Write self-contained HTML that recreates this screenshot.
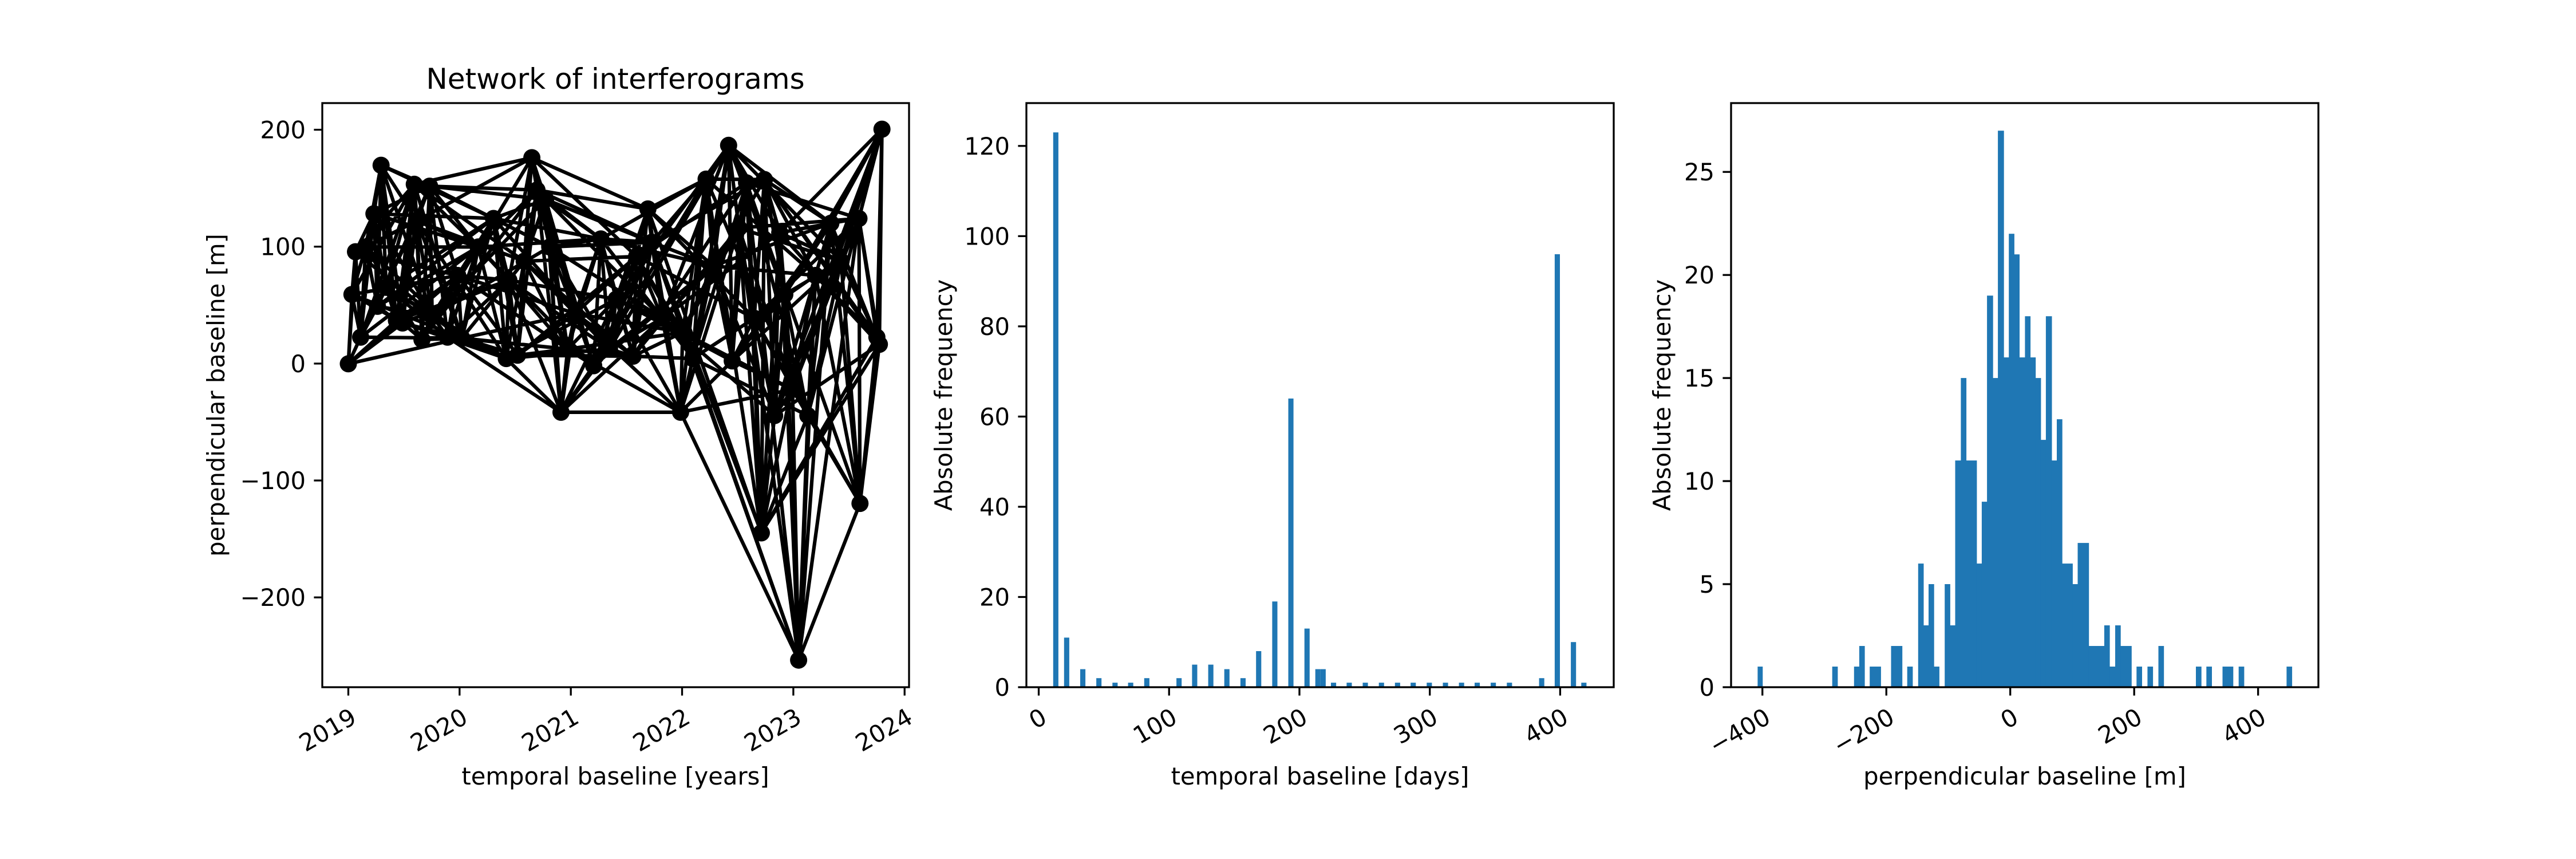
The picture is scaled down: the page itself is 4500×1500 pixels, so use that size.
<!DOCTYPE html>
<html><head><meta charset="utf-8"><style>
html,body{margin:0;padding:0;background:#fff}
svg{display:block}
text{font-family:"DejaVu Sans","Liberation Sans",sans-serif;fill:#000}
</style></head><body>
<svg id="s" xmlns="http://www.w3.org/2000/svg" width="4500" height="1500" viewBox="0 0 4500 1500">
<rect width="4500" height="1500" fill="#fff"/>
<g id="g"></g>
<text x="1075" y="155" font-size="50" text-anchor="middle">Network of interferograms</text>
<text x="1075" y="1370" font-size="41.7" text-anchor="middle">temporal baseline [years]</text>
<text x="2306" y="1370" font-size="41.7" text-anchor="middle">temporal baseline [days]</text>
<text x="3537" y="1370" font-size="41.7" text-anchor="middle">perpendicular baseline [m]</text>
<text transform="translate(392,690) rotate(-90)" font-size="41.7" text-anchor="middle">perpendicular baseline [m]</text>
<text transform="translate(1663,690) rotate(-90)" font-size="41.7" text-anchor="middle">Absolute frequency</text>
<text transform="translate(2918,690) rotate(-90)" font-size="41.7" text-anchor="middle">Absolute frequency</text>
</svg>
<script>
(function(){
var NS="http://www.w3.org/2000/svg",g=document.getElementById("g");
function el(t,a,txt){var e=document.createElementNS(NS,t);for(var k in a)e.setAttribute(k,a[k]);if(txt!==undefined)e.textContent=txt;g.appendChild(e);return e;}
var T=1200,TOP=180,TK=14.6;
var L1=563,R1=1588;
function zx1(px){return L1+(px-295)/1148*1025;}
function zy1(py){return TOP+(py-97)/1230*1020;}
var N=[[346,646],[353,500],[360,410],[370,590],[380,400],[396,330],[403,525],[410,228],[420,485],[440,555],[452,560],[475,268],[480,345],[490,595],[505,272],[510,545],[540,590],[560,460],[568,592],[600,400],[630,340],[655,635],[660,470],[677,628],[690,430],[705,212],[715,280],[732,300],[740,400],[762,748],[775,615],[790,540],[826,650],[840,383],[857,615],[870,510],[903,630],[910,420],[932,320],[940,390],[960,550],[996,748],[1000,580],[1020,635],[1046,257],[1060,440],[1090,186],[1097,640],[1110,360],[1125,265],[1140,550],[1154,1002],[1160,258],[1180,755],[1190,370],[1200,500],[1215,700],[1227,1270],[1245,755],[1260,460],[1290,350],[1310,430],[1347,940],[1345,340],[1380,590],[1385,605],[1390,152]];
var P=N.map(function(n){return [zx1(n[0]),zy1(n[1])];});
var d="";
function seg(i,j){d+="M"+P[i][0].toFixed(1)+" "+P[i][1].toFixed(1)+"L"+P[j][0].toFixed(1)+" "+P[j][1].toFixed(1);}
var yr=1025/5.274;
for(var i=0;i<P.length;i++){
 for(var j=i+1;j<=i+3&&j<P.length;j++)seg(i,j);
 [0.5,1.0].forEach(function(off){var best=-1,bd=1e9;for(var j=i+1;j<P.length;j++){var dd=Math.abs((P[j][0]-P[i][0])/yr-off);if(dd<bd){bd=dd;best=j;}}if(best>0&&bd<0.2)seg(i,best);
 var b2=-1,bd2=1e9;for(var j=i+1;j<P.length;j++){if(j==best)continue;var dd=Math.abs((P[j][0]-P[i][0])/yr-off);if(dd<bd2){bd2=dd;b2=j;}}if(b2>0&&bd2<0.15)seg(i,b2);});
}
el("path",{d:d,stroke:"#000","stroke-width":6.2,fill:"none","stroke-linejoin":"round"});
P.forEach(function(p){el("circle",{cx:p[0].toFixed(1),cy:p[1].toFixed(1),r:15,fill:"#000"});});
function vy1(v){return TOP+(222.8-v)/499.6*1020;}
[200,100,0,-100,-200].forEach(function(v){var y=vy1(v);el("line",{x1:L1,x2:L1-TK,y1:y,y2:y,stroke:"#000","stroke-width":3.3});el("text",{x:L1-29,y:y+15,"font-size":41.7,"text-anchor":"end"},(v<0?"\u2212"+(-v):""+v));});
function xtick(x,lab){el("line",{x1:x,x2:x,y1:T,y2:T+TK,stroke:"#000","stroke-width":3.3});el("text",{transform:"translate("+(x+2)+","+(T+TK+20)+") rotate(-30)",x:0,y:30,"font-size":41.7,"text-anchor":"end"},lab);}
for(var y=2019;y<=2024;y++)xtick(L1+(y-2018.766)/5.274*1025,""+y);
el("rect",{x:L1,y:TOP,width:R1-L1,height:T-TOP,fill:"none",stroke:"#000","stroke-width":3.3});
var L2=1793,R2=2819;
function zx2(px){return L2+(px-232)/1239*1026;}
function vy2(v){return T-v/129.5*1020;}
var B2=[[294,123],[317,11],[351,4],[385,2],[419,1],[452,1],[486,2],[554,2],[587,5],[621,5],[655,4],[689,2],[722,8],[756,19],[790,64],[824,13],[847,4],[858,4],[880,1],[913,1],[947,1],[981,1],[1015,1],[1048,1],[1082,1],[1116,1],[1150,1],[1183,1],[1217,1],[1251,1],[1319,2],[1352,96],[1386,10],[1408,1]];
var bw=11/1239*1026;
B2.forEach(function(b){var x=zx2(b[0])-bw/2,y=vy2(b[1]);el("rect",{x:x.toFixed(1),y:y.toFixed(1),width:bw.toFixed(1),height:(T-y).toFixed(1),fill:"#1f77b4"});});
[0,20,40,60,80,100,120].forEach(function(v){var y=vy2(v);el("line",{x1:L2,x2:L2-TK,y1:y,y2:y,stroke:"#000","stroke-width":3.3});el("text",{x:L2-29,y:y+15,"font-size":41.7,"text-anchor":"end"},""+v);});
[0,100,200,300,400].forEach(function(v){xtick(zx2(258+v*2.75),""+v);});
el("rect",{x:L2,y:TOP,width:R2-L2,height:T-TOP,fill:"none",stroke:"#000","stroke-width":3.3});
var L3=3024,R3=4050;
function zx3(px){return L3+(px-210)/1237*1026;}
function vy3(v){return T-v/28.34*1020;}
var B3=[[266,276,1],[423,434,1],[469,480,1],[480,491,2],[502,525,1],[547,570,2],[581,592,1],[604,615,6],[615,626,3],[626,637,5],[637,648,1],[660,671,5],[671,682,3],[682,694,11],[694,705,15],[705,727,11],[727,738,6],[738,749,9],[749,761,19],[761,772,15],[772,784,27],[784,795,16],[795,806,22],[806,817,21],[817,829,16],[829,840,18],[840,851,16],[851,862,15],[862,873,12],[873,885,18],[885,896,11],[896,907,13],[907,929,6],[929,940,5],[940,963,7],[963,996,2],[996,1007,3],[1007,1019,1],[1019,1030,3],[1030,1053,2],[1064,1075,1],[1087,1098,1],[1110,1121,2],[1189,1200,1],[1211,1222,1],[1245,1267,1],[1279,1290,1],[1380,1391,1]];
B3.forEach(function(b){var x0=zx3(b[0]),x1=zx3(b[1]),y=vy3(b[2]);el("rect",{x:x0.toFixed(1),y:y.toFixed(1),width:(x1-x0+0.6).toFixed(1),height:(T-y).toFixed(1),fill:"#1f77b4"});});
[0,5,10,15,20,25].forEach(function(v){var y=vy3(v);el("line",{x1:L3,x2:L3-TK,y1:y,y2:y,stroke:"#000","stroke-width":3.3});el("text",{x:L3-29,y:y+15,"font-size":41.7,"text-anchor":"end"},""+v);});
[-400,-200,0,200,400].forEach(function(v){xtick(zx3(798+v*1.305),(v<0?"\u2212"+(-v):""+v));});
el("rect",{x:L3,y:TOP,width:R3-L3,height:T-TOP,fill:"none",stroke:"#000","stroke-width":3.3});
})();
</script>
</body></html>
